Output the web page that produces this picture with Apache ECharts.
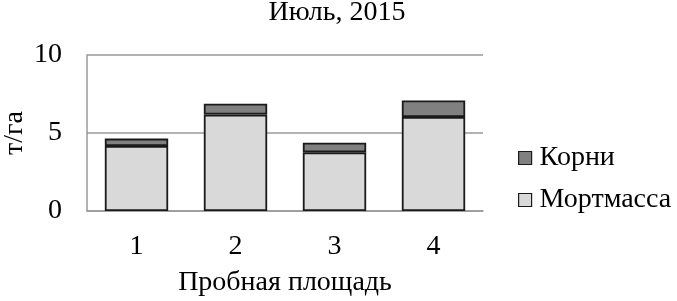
<!DOCTYPE html>
<html><head><meta charset="utf-8">
<script src="https://cdn.jsdelivr.net/npm/echarts@6/dist/echarts.min.js"></script>
<style>html,body{margin:0;padding:0;background:#fff}#c{width:677px;height:301px}</style>
</head><body><div id="c"></div>
<script>
const categories = ['1', '2', '3', '4'];
const mortmassa = [4.17, 6.18, 3.76, 6.03];
const korni = [0.47, 0.70, 0.62, 1.05];
const yTicks = [0, 5, 10];

const font = '"Liberation Serif", "DejaVu Serif", serif';
const chart = echarts.init(document.getElementById('c'), null, {renderer: 'canvas'});
chart.setOption({
  animation: false,
  backgroundColor: '#fff',
  title: {text: 'Июль, 2015', left: 332, top: -6, textAlign: 'center',
    textStyle: {fontFamily: font, fontSize: 28, fontWeight: 'normal', color: '#000'}},
  grid: {left: 87, right: 194, top: 55, bottom: 90, outerBoundsMode: 'none'},
  legend: {orient: 'vertical', left: 513, top: 139, itemGap: 14, itemWidth: 13, itemHeight: 13,
    icon: 'rect',
    data: ['Корни', 'Мортмасса'],
    itemStyle: {borderColor: '#1a1a1a', borderWidth: 1.2},
    textStyle: {fontFamily: font, fontSize: 28, lineHeight: 28, color: '#000', padding: [0, 0, 0, 3]}},
  xAxis: {type: 'category', data: categories,
    axisLine: {lineStyle: {color: '#999', width: 1.5}}, axisTick: {show: false},
    axisLabel: {fontFamily: font, fontSize: 28, color: '#000', margin: 22},
    name: 'Пробная площадь', nameLocation: 'middle', nameGap: 58,
    nameTextStyle: {fontFamily: font, fontSize: 28, color: '#000'}},
  yAxis: {type: 'value', min: yTicks[0], max: yTicks[yTicks.length - 1], interval: 5,
    axisLine: {show: true, lineStyle: {color: '#999', width: 1.5}}, axisTick: {show: false},
    splitLine: {lineStyle: {color: '#999', width: 1.5}},
    axisLabel: {fontFamily: font, fontSize: 28, color: '#000', margin: 25},
    name: 'т/га', nameLocation: 'middle', nameGap: 58, nameRotate: 90, nameMoveOverlap: false,
    nameTextStyle: {fontFamily: font, fontSize: 28, color: '#000'}},
  series: [
    {name: 'Мортмасса', type: 'bar', stack: 's', data: mortmassa, barWidth: '64%',
      itemStyle: {color: '#d9d9d9', borderColor: '#1a1a1a', borderWidth: 1.8}},
    {name: 'Корни', type: 'bar', stack: 's', data: korni, barWidth: '64%',
      itemStyle: {color: '#808080', borderColor: '#1a1a1a', borderWidth: 1.8}}
  ]
});
</script></body></html>
